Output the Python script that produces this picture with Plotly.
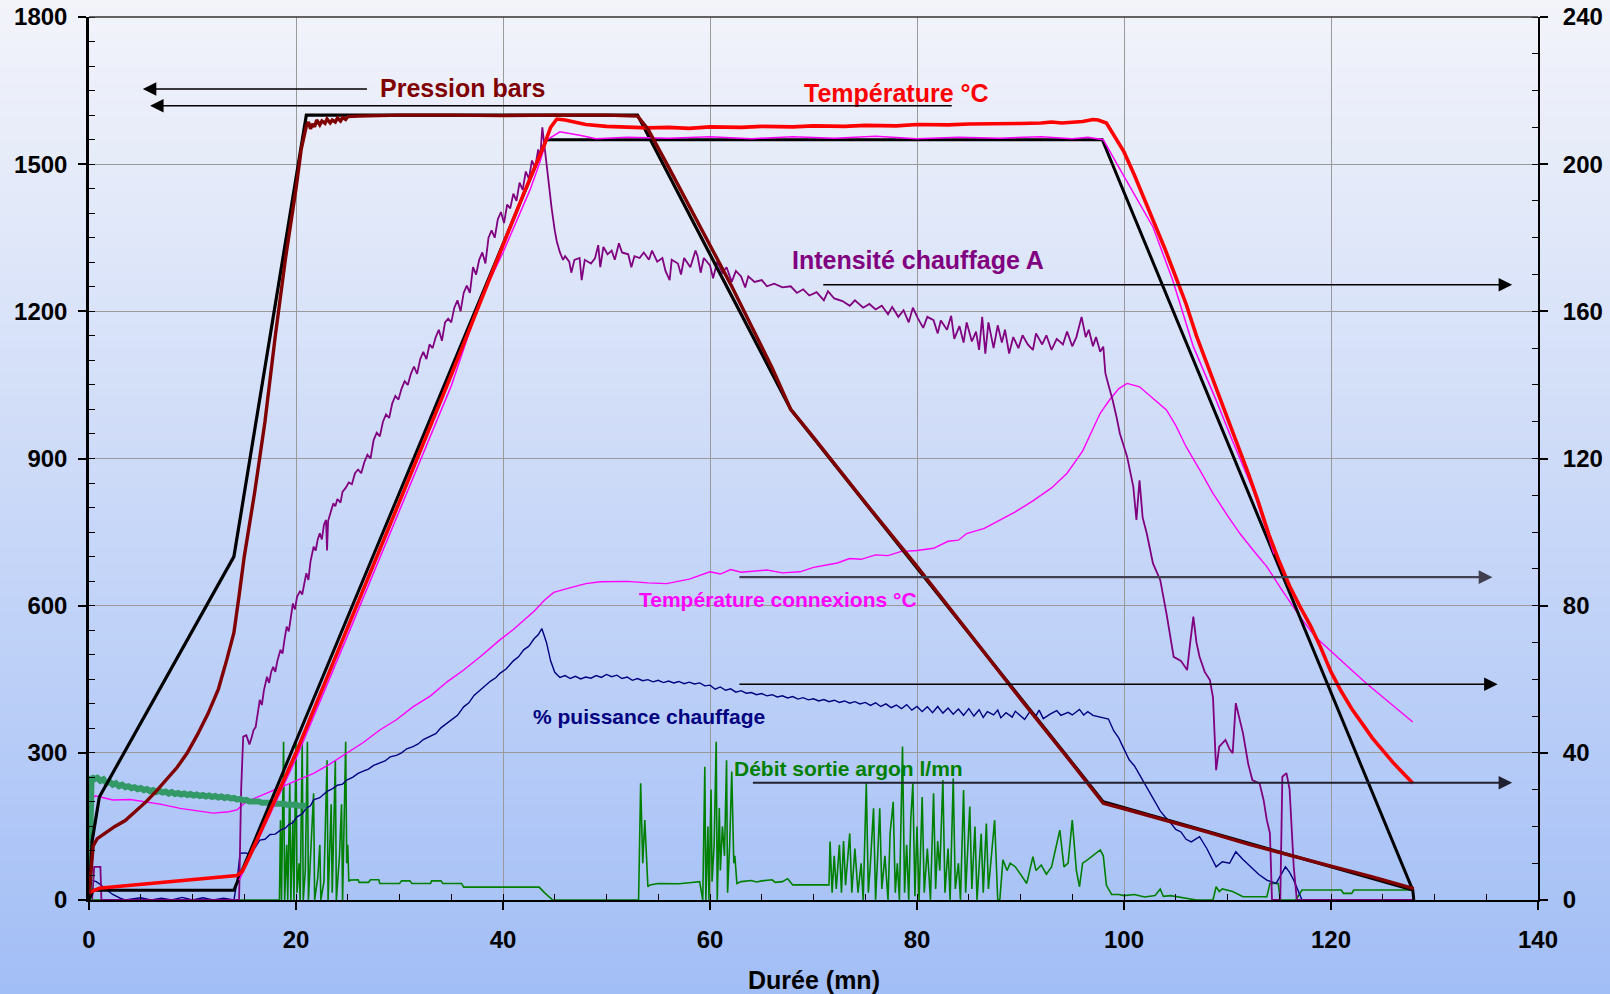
import plotly.graph_objects as go

# ---------------- DATA ----------------
# Left axis (0-1800): pressure (bars) and temperatures (°C)
press_set_x = [0, 0.3, 1.0, 14, 21, 53, 67.8, 98, 128]
press_set_y = [0, 120, 210, 700, 1600, 1600, 1000, 200, 20]

temp_set_x = [0, 0.4, 14, 44.2, 97.9, 127.9, 128]
temp_set_y = [0, 20, 20, 1550, 1550, 20, 0]

press_pts = [(0, 10), (0.2, 60), (0.4, 110), (0.8, 125), (1.5, 135), (2.5, 150), (3.5, 162), (4.5, 180),
             (5.5, 200), (6.5, 222), (7.5, 245), (8.5, 270), (9.5, 300), (10.5, 338), (11.5, 380), (12.5, 430),
             (13.3, 489), (14, 545), (14.5, 620), (15, 700), (16, 830), (17, 975), (18, 1150), (19, 1310),
             (20, 1450), (20.5, 1530), (21, 1578), (21.2, 1586), (21.4, 1572), (21.6, 1582), (21.8, 1576),
             (22, 1590), (22.3, 1580), (22.5, 1588), (22.8, 1583), (23, 1592), (23.3, 1584), (23.5, 1590),
             (23.8, 1586), (24, 1594), (24.3, 1588), (24.5, 1595), (24.8, 1591), (25, 1597), (26, 1598),
             (30, 1600), (35, 1600), (40, 1599), (45, 1600), (50, 1600), (53, 1598), (54, 1572), (56, 1494),
             (58, 1415), (60, 1335), (62, 1255), (64, 1170), (66, 1085), (67.8, 1000), (70, 943), (75, 810),
             (80, 680), (85, 545), (90, 410), (95, 278), (98, 197), (100, 186), (104, 163), (108, 139), (112, 114),
             (116, 91), (120, 69), (124, 47), (128, 23)]

temp_pts = [(0, 15), (0.5, 20), (1, 24), (3, 28), (5, 32), (7, 36), (9, 40), (11, 43), (13, 47), (14.3, 50),
            (14.8, 58), (15.5, 88), (20, 300), (25, 555), (30, 812), (35, 1070), (38, 1232), (40, 1335),
            (42, 1440), (43, 1490), (44, 1540), (44.6, 1575), (45.2, 1592), (46, 1590), (47, 1585), (48, 1581),
            (50, 1577), (52, 1575), (54, 1574), (56, 1575), (58, 1573), (60, 1576), (63, 1575), (65, 1577),
            (68, 1576), (70, 1578), (73, 1577), (75, 1579), (78, 1578), (80, 1581), (83, 1580), (85, 1582),
            (88, 1582), (90, 1583), (92, 1584), (93, 1586), (94, 1584), (95, 1585), (96, 1587), (97, 1591),
            (97.5, 1590), (98.3, 1584), (99, 1560), (100, 1525), (101, 1478), (102, 1428), (103, 1378),
            (104, 1325), (105, 1270), (106, 1215), (107, 1150), (108, 1095), (109, 1040), (110, 985), (111, 925),
            (112, 870), (113, 810), (114, 745), (115, 690), (116, 640), (117, 598), (118, 560), (119, 515),
            (120, 465), (121, 425), (122, 390), (123, 360), (124, 330), (125, 305), (126, 280), (127, 258),
            (127.9, 238)]

temp2_pts = [(14.5, 40), (20, 288), (25, 540), (30, 795), (35, 1048), (37.8, 1223), (40, 1320), (42.6, 1447),
             (43.5, 1500), (44.2, 1549), (45.5, 1566), (47.4, 1559), (49, 1552), (52, 1555), (56, 1553),
             (60, 1556), (64, 1552), (68, 1556), (72, 1553), (76, 1557), (80, 1552), (84, 1555), (88, 1553),
             (92, 1556), (95, 1552), (96.5, 1555), (98, 1550), (99.3, 1501), (100.9, 1441), (102.8, 1372),
             (104.7, 1264), (106.7, 1128), (108.9, 1019), (110.5, 935), (112.5, 835), (114.5, 705)]

inlet_pts = [(0, 0), (0.1, 205), (0.25, 252), (0.5, 246), (0.8, 249), (1.1, 243), (1.4, 246), (1.7, 238),
             (2.0, 241), (2.3, 235), (2.6, 238), (2.9, 232), (3.2, 235), (3.5, 230), (3.8, 232), (4.1, 228),
             (4.4, 230), (4.7, 226), (5.0, 228), (5.3, 224), (5.6, 226), (5.9, 222), (6.2, 224), (6.5, 220),
             (6.8, 223), (7.1, 219), (7.4, 221), (7.7, 217), (8.0, 220), (8.3, 216), (8.6, 218), (8.9, 215),
             (9.2, 217), (9.5, 214), (9.8, 216), (10.1, 213), (10.4, 215), (10.7, 212), (11.0, 214), (11.3, 211),
             (11.6, 213), (11.9, 210), (12.2, 212), (12.5, 209), (12.8, 211), (13.1, 208), (13.4, 210),
             (13.7, 207), (14.0, 208), (14.3, 205), (14.6, 206), (14.9, 203), (15.2, 204), (15.5, 201),
             (15.8, 202), (16.1, 200), (16.4, 201), (16.7, 198), (17.0, 199), (17.3, 197), (17.6, 198),
             (17.9, 196), (18.2, 197), (18.5, 195), (18.8, 196), (19.1, 194), (19.4, 195), (19.7, 193),
             (20.0, 194), (20.3, 192), (20.6, 193), (20.9, 191), (21.0, 192)]

# Right axis (0-240): connexion temperature °C, current A, % power, argon flow l/mn
conn_pts = [(0, 20), (0.3, 27.5), (0.6, 28.3), (1, 28.0), (2.3, 27.2), (4, 27.3), (5.6, 26.7), (7, 26.0),
            (8.8, 24.9), (10.5, 24.2), (12, 23.6), (13.5, 24.0), (14.3, 24.5), (15.2, 26.7), (16.8, 28.6),
            (18.5, 30.8), (20, 32.5), (21.7, 34.4), (23.3, 37.0), (24.9, 39.9), (26.5, 42.8), (28.1, 46.2),
            (29.7, 49.0), (31.3, 52.5), (33, 55.5), (34.6, 59.3), (36.2, 62.5), (37.8, 66.1), (39.7, 70.7),
            (41, 73.5), (42, 76.0), (43, 78.5), (44, 81.5), (44.9, 83.6), (46, 84.5), (48, 86.0), (49.4, 86.5),
            (52, 86.6), (54, 86.2), (55.8, 86.0), (58, 87.2), (60, 89.2), (61, 88.6), (62, 89.8), (63, 89.1),
            (64, 89.3), (65.5, 89.7), (67, 88.9), (68.7, 89.2), (70, 90.4), (71, 91.0), (72.3, 91.6),
            (73.5, 92.8), (74.6, 92.6), (76, 93.8), (77.2, 93.6), (78.4, 94.7), (80, 95.0), (81.6, 95.6),
            (83, 97.5), (84, 97.8), (84.8, 99.6), (86.5, 101.0), (88, 103.3), (89.5, 105.5), (91.2, 108.5),
            (93, 112.0), (94.5, 116.0), (96, 122.0), (97.7, 132.3), (98.6, 135.9), (99.5, 139.0),
            (100.3, 140.4), (101.5, 139.5), (102.5, 137.0), (104.1, 133.2), (105, 129.0), (106, 123.2),
            (107.3, 117.0), (108.6, 110.5), (110, 104.5), (111.2, 99.6), (112.5, 95.0), (113.8, 90.6),
            (115.2, 84.5), (117, 77.0), (118.5, 71.5), (120.2, 67.0), (121.8, 63.0), (123.4, 58.9), (125, 55.2),
            (126.6, 51.6), (127.9, 48.4)]

amp_pts = [(0, 0), (0.3, 0), (0.5, 9), (1.0, 9), (1.1, 9), (1.2, 0), (14.5, 0), (14.7, 30), (14.9, 44.4),
           (15.2, 44.8), (15.5, 42.3), (15.7, 44), (15.9, 46.2), (16.1, 47), (16.3, 51), (16.5, 54.4), (16.7, 53),
           (16.9, 57), (17.2, 60.7), (17.4, 59), (17.6, 62), (17.8, 63.4), (18.0, 62), (18.2, 65), (18.5, 68),
           (18.7, 67), (18.9, 71), (19.1, 74.3), (19.3, 73), (19.5, 77), (19.7, 80.6), (19.9, 79), (20.1, 82.4),
           (20.4, 84), (20.6, 83), (20.8, 86), (21, 88.8), (21.2, 87), (21.4, 92), (21.7, 96), (21.9, 95),
           (22.1, 98), (22.3, 99.7), (22.5, 98), (22.7, 102), (22.9, 103.3), (23.0, 95), (23.1, 103),
           (23.3, 105), (23.6, 107.8), (23.8, 107), (24.0, 109), (24.3, 108), (24.5, 111), (24.8, 112),
           (25.1, 113.5), (25.4, 113), (25.7, 116), (26.0, 117), (26.3, 116), (26.6, 119), (26.9, 121),
           (27.2, 120), (27.5, 125), (27.8, 127), (28.1, 126), (28.4, 130), (28.7, 132), (29.0, 131),
           (29.3, 135), (29.6, 137), (29.9, 136), (30.2, 139), (30.5, 141), (30.8, 140), (31.1, 143),
           (31.4, 145), (31.7, 143), (32.0, 147), (32.3, 149), (32.6, 147), (32.9, 151), (33.2, 150),
           (33.5, 153), (33.8, 155), (34.1, 152), (34.4, 157), (34.7, 158), (35.0, 157), (35.3, 161),
           (35.6, 163), (35.9, 160), (36.2, 165), (36.5, 167), (36.8, 165), (37.1, 172), (37.4, 170),
           (37.7, 174), (38.0, 176), (38.3, 173), (38.6, 180), (38.9, 182), (39.2, 180), (39.5, 185),
           (39.8, 187), (40.1, 184), (40.4, 189), (40.7, 188), (41.0, 192), (41.3, 190), (41.6, 195),
           (41.9, 193), (42.2, 198), (42.5, 196), (42.8, 201), (43.1, 199), (43.4, 204), (43.6, 202),
           (43.8, 210), (44.0, 205), (44.2, 199), (44.5, 192), (44.7, 188), (45, 182), (45.2, 179), (45.5, 176),
           (45.8, 174), (46, 175), (46.4, 173.5), (46.6, 170.5), (46.9, 174), (47.4, 174.5), (47.6, 168.5),
           (47.9, 174), (48.5, 173), (48.9, 174.5), (49.2, 178), (49.4, 172), (49.7, 177.5), (50.1, 175.5),
           (50.5, 176.5), (50.8, 174), (51.2, 178.5), (51.5, 176), (52.1, 175.5), (52.4, 172), (52.7, 175),
           (53.2, 174.5), (53.6, 176), (54.1, 174), (54.4, 176.5), (54.9, 173.5), (55.4, 174.5), (55.7, 171),
           (56.1, 168.5), (56.3, 174), (56.9, 173), (57.2, 170), (57.5, 174.5), (58.1, 172), (58.6, 176.5),
           (58.8, 175), (59.1, 170.5), (59.4, 174.5), (60, 172.5), (60.3, 169), (60.7, 173.5), (61.2, 170.5),
           (61.6, 172), (62.1, 168), (62.5, 171), (63, 169.5), (63.4, 166.5), (63.7, 169.5), (64.3, 168),
           (65, 168.5), (65.5, 166.8), (66.2, 167.5), (67, 166.5), (67.8, 166.8), (68.4, 165), (69, 166),
           (69.6, 164.3), (70.3, 165.2), (71, 163), (71.4, 165.5), (72, 163.5), (72.8, 162.8), (73.5, 161.5),
           (74, 163), (74.8, 161), (75.4, 162), (76, 160.5), (76.6, 161.5), (77.2, 159.2), (77.6, 161.2),
           (78.2, 158.5), (78.7, 160.3), (79.2, 157), (79.6, 161), (80.1, 158), (80.6, 155.5), (81, 158.5),
           (81.6, 157.6), (82, 154), (82.3, 157.5), (82.9, 155), (83.3, 158.8), (83.6, 152.5), (84.1, 156),
           (84.5, 151.5), (84.8, 157), (85.3, 151.8), (85.7, 154.5), (86, 149.5), (86.3, 158.5), (86.6, 148.5),
           (86.9, 157), (87.4, 150), (87.8, 156.2), (88.2, 151.5), (88.5, 155), (88.9, 148.5), (89.3, 153),
           (89.8, 150), (90.2, 153.5), (90.7, 151), (91.2, 149.5), (91.5, 154), (92.1, 151), (92.5, 153.5),
           (93, 149.5), (93.5, 152.5), (94.1, 151), (94.5, 154.5), (95, 150.5), (95.4, 153), (95.9, 158.5),
           (96.3, 153), (96.6, 155), (97, 150.5), (97.3, 153), (97.7, 149), (98, 150.4),
           (98.2, 143.2), (98.5, 140), (98.9, 135.9), (99.3, 131), (99.6, 126.8), (100.3, 120.5), (100.6, 116),
           (100.9, 112.3), (101.2, 103.3), (101.5, 114.1), (101.8, 104), (102.2, 99.6), (102.8, 91.5),
           (103.5, 87), (104.1, 77.9), (104.8, 66.1), (105.5, 65), (106.1, 62.5), (106.4, 70), (106.7, 77),
           (107.0, 70), (107.3, 66.1), (107.8, 62), (108.3, 59.8), (108.6, 55), (108.9, 35.3), (109.2, 41.7),
           (109.8, 43.5), (110.2, 41), (110.5, 39.9), (110.8, 53.5), (111.1, 50), (111.5, 45.3), (112, 37),
           (112.4, 32.6), (113.1, 31.7), (113.5, 27), (113.8, 21.7), (114.1, 18.1), (114.3, 0), (115.1, 0),
           (115.3, 33.5), (115.7, 34.5), (116, 30), (116.4, 9), (116.7, 0), (128, 0)]

power_pts = [(0, 4), (0.2, 5.4), (0.7, 5), (1.2, 4), (1.7, 2.7), (2.3, 1.5), (3, 0.5), (3.5, 0), (5, 0.6), (6, 0),
             (7, 0.5), (8, 0), (9, 0.7), (10, 0), (11, 0.6), (12, 0), (13, 0.5), (14, 0), (14.3, 5), (14.6, 12.7),
             (15.2, 12.8), (15.6, 12), (16, 14), (16.5, 16.3), (17, 16.5), (17.5, 17.8), (18, 17.9), (18.5, 19),
             (19, 19.6), (19.3, 20.5), (19.7, 21.0), (20.1, 22.6), (20.6, 23.4), (21, 25), (21.4, 25.6),
             (21.7, 27.2), (22.3, 27.8), (23, 29.5), (23.5, 30.2), (24, 31.2), (24.5, 31.5), (24.9, 32.6),
             (25.5, 33.4), (26, 34.4), (26.5, 35), (27, 35.6), (27.5, 36.6), (28.1, 37.2), (28.6, 37.8),
             (29.1, 38.9), (29.7, 39.3), (30.2, 40.0), (30.7, 41.1), (31.3, 41.7), (31.8, 42.4), (32.3, 43.6),
             (33, 44.5), (33.5, 45.2), (34, 46.8), (34.6, 48), (35.1, 49.1), (35.6, 50.2), (36.2, 52.5),
             (36.7, 53.6), (37.2, 55.6), (37.8, 57.1), (38.3, 58.2), (38.8, 59.5), (39.3, 60.4), (39.7, 61.6),
             (40.3, 62.8), (41, 65), (41.5, 66.1), (42, 68), (42.5, 69.0), (43, 71), (43.4, 72.1), (43.75, 73.8),
             (44.2, 70), (44.6, 65), (45, 61.9), (45.5, 60.5), (46, 61), (46.5, 60.2), (47, 60.8), (47.5, 60.1),
             (48, 60.6), (48.5, 60.3), (49, 61), (49.5, 60.5), (50, 61.3), (50.5, 60.7), (51, 61.1), (51.5, 60.2),
             (52, 60.6), (52.5, 59.7), (53, 60.2), (53.5, 59.6), (54, 59.9), (54.5, 59.3), (55, 59.7),
             (55.5, 59.1), (56, 59.5), (56.5, 59.0), (57, 59.4), (57.5, 58.8), (58, 59.2), (58.5, 58.7), (59, 59.0),
             (59.5, 58.2), (60, 58.4), (60.5, 57.3), (61, 57.9), (61.5, 57.0), (62, 57.4), (62.5, 56.5),
             (63, 56.9), (63.5, 56.2), (64, 56.4), (64.5, 55.8), (65, 56.1), (65.5, 55.5), (66, 55.8),
             (66.5, 55.2), (67, 55.5), (67.5, 54.9), (68, 55.3), (68.5, 54.6), (69, 55.0), (69.5, 54.4),
             (70, 54.7), (70.5, 54.1), (71, 54.5), (71.5, 53.9), (72, 54.3), (72.5, 53.7), (73, 54.1), (73.5, 53.5),
             (74, 53.9), (74.5, 53.3), (75, 53.7), (75.5, 52.9), (76, 53.6), (76.5, 52.6), (77, 53.3), (77.5, 52.3),
             (78, 53.0), (78.5, 52.0), (79, 53.1), (79.5, 51.6), (80, 52.6), (80.5, 51.2), (81, 52.5), (81.5, 50.9),
             (82, 52.6), (82.5, 50.8), (83, 52.2), (83.5, 50.5), (84, 51.9), (84.5, 50.2), (85, 52.0), (85.5, 50.0),
             (86, 51.7), (86.4, 49.6), (86.8, 51.2), (87.4, 50.3), (87.8, 51.6), (88.1, 49.5), (88.6, 50.9),
             (89.2, 49.7), (89.5, 51.3), (90.1, 50.0), (90.4, 49.1), (90.9, 51.2), (91.5, 50.1), (91.8, 51.6),
             (92.2, 49.3), (92.9, 50.6), (93.5, 51.5), (93.9, 50.2), (94.6, 51.0), (95.0, 50.3), (95.7, 51.8),
             (96.1, 50.3), (96.5, 51.2), (97, 50.2), (97.7, 49.8), (98.5, 49.2), (99, 46), (99.5, 44), (100, 41),
             (100.5, 38.1), (101, 36.5), (101.5, 34), (102, 31.5), (102.5, 29), (103, 26.8), (103.5, 24.2),
             (104, 22.5), (104.5, 21), (105, 19.2), (105.5, 18.5), (106, 16.5), (106.5, 15.8), (107.3, 17.2),
             (108, 14), (108.9, 9), (109.5, 10.4), (110.2, 10), (110.8, 13.1), (111.5, 11), (112.2, 9), (113, 7),
             (113.8, 5.4), (114.7, 4.5), (115.6, 9), (116, 7.5), (116.4, 5.4), (117.2, 0), (128, 0)]

argon_pts = [(0, 0), (18.4, 0), (18.5, 21.7), (18.6, 0), (18.8, 43), (18.9, 0), (19.1, 15), (19.2, 0),
             (19.4, 31.7), (19.5, 0), (19.7, 21.7), (19.8, 0), (20.0, 43), (20.1, 2), (20.3, 10), (20.4, 0),
             (20.6, 43), (20.7, 0), (20.9, 8), (21.1, 43), (21.2, 0), (21.4, 12), (21.7, 29), (21.8, 0), (22.1, 6),
             (22.3, 15), (22.4, 0), (22.7, 5), (23.0, 38), (23.1, 0), (23.4, 26), (23.5, 2), (23.8, 38), (23.9, 0),
             (24.2, 12), (24.4, 26), (24.5, 0), (24.8, 43), (24.9, 10), (25.0, 15), (25.1, 5), (25.2, 5.4),
             (26, 5.5), (26.1, 4.8), (27, 4.8), (27.2, 5.5), (28, 5.5), (28.1, 4.5), (30, 4.5), (30.2, 5.2),
             (31, 5.2), (31.2, 4.5), (33, 4.5), (33.1, 5.2), (34, 5.2), (34.2, 4.5), (36, 4.5), (36.2, 3.5),
             (43.5, 3.5), (44, 2), (44.8, 0), (53.1, 0), (53.3, 31.7), (53.5, 10), (53.7, 21.7), (54, 3.6),
             (54.2, 4.1), (55, 4.5), (57, 4.4), (58, 4.7), (59, 5), (59.3, 0), (59.5, 36.2), (59.6, 0), (59.8, 20),
             (59.9, 0), (60.1, 30), (60.2, 5), (60.4, 15), (60.6, 43), (60.7, 0), (60.9, 25), (61.0, 8),
             (61.2, 20), (61.4, 12), (61.6, 38), (61.7, 2), (61.9, 15), (62.1, 34.9), (62.3, 10), (62.4, 12),
             (62.6, 4.5), (63, 5), (64, 5.3), (64.5, 4.9), (65, 5.2), (66, 5.5), (66.3, 4.8), (67, 5), (67.5, 5.8),
             (68, 4.1), (71.5, 4.1), (71.6, 15.9), (71.8, 2), (72.0, 12), (72.2, 3), (72.5, 15), (72.7, 2),
             (72.9, 16), (73.1, 4), (73.5, 18.1), (73.7, 2), (74, 14), (74.3, 2), (74.6, 10), (74.8, 0),
             (75.1, 31.7), (75.3, 2), (75.5, 10), (75.8, 24.9), (76.0, 0), (76.2, 12), (76.4, 24.9), (76.6, 3),
             (76.9, 12), (77.2, 0), (77.4, 18), (77.7, 26.7), (77.9, 2), (78.1, 10), (78.3, 0), (78.6, 41.7),
             (78.8, 2), (79.0, 15), (79.2, 0), (79.4, 22), (79.6, 31.7), (79.8, 1), (80.0, 20), (80.2, 0),
             (80.5, 28), (80.7, 2), (81.0, 14), (81.3, 0), (81.6, 29), (81.8, 3), (82.0, 16), (82.2, 8),
             (82.5, 32.6), (82.7, 2), (83.0, 14), (83.2, 0), (83.5, 33), (83.7, 3), (84.0, 10), (84.2, 0),
             (84.5, 29.9), (84.7, 2), (85.1, 25.4), (85.3, 3), (85.6, 20), (85.8, 0), (86.2, 18), (86.4, 2),
             (86.7, 20.8), (86.9, 3), (87.2, 12), (87.5, 21.7), (87.8, 0), (88.0, 0), (88.3, 10.9), (88.7, 8),
             (89.0, 10), (89.5, 9), (90, 7), (90.6, 4.5), (91.2, 11.8), (91.5, 8), (92, 9.5), (92.5, 7), (93, 9),
             (93.8, 19), (94.2, 9), (94.6, 10), (95, 21.7), (95.4, 8), (95.7, 3.6), (96, 10), (96.5, 11), (97, 12),
             (97.7, 13.6), (98, 12), (98.3, 4), (98.8, 1.5), (99.5, 1.5), (100, 1.2), (101, 1.5), (102, 0.8),
             (103, 1.2), (103.5, 3), (103.8, 1), (104.5, 1.2), (106, 0.5), (107, 0), (108.6, 0), (108.9, 3.6),
             (109.2, 2.3), (109.5, 3), (110.5, 2.3), (111.5, 0.9), (113.8, 0.9), (114.1, 4.5), (114.9, 4.5),
             (115.1, 0), (116.6, 0), (117.2, 2.7), (121, 2.7), (121.2, 1.8), (122, 1.8), (122.2, 2.7),
             (124.5, 2.7), (124.7, 2.7), (125.4, 2.7), (127.9, 2.7), (128, 0)]

# tick values
x_ticks = [0, 20, 40, 60, 80, 100, 120, 140]
left_ticks = [0, 300, 600, 900, 1200, 1500, 1800]
right_ticks = [0, 40, 80, 120, 160, 200, 240]

# ---------------- FIGURE ----------------
FONT = "Liberation Sans, Arial, sans-serif"
fig = go.Figure()


def line(x, y, color, width, axis):
    fig.add_trace(go.Scatter(x=x, y=y, mode="lines", yaxis=axis, hoverinfo="skip",
                             line=dict(color=color, width=width)))


def line_pts(pts, color, width, axis):
    line([p[0] for p in pts], [p[1] for p in pts], color, width, axis)


# right-axis series (base subplot, drawn first)
line_pts(argon_pts, "#008000", 1.6, "y")
line_pts(power_pts, "#000080", 1.4, "y")
line_pts(conn_pts, "#ff00ff", 1.4, "y")
line_pts(amp_pts, "#800080", 1.8, "y")
# left-axis series (overlay subplot, drawn on top)
line_pts(inlet_pts, "#339966", 6, "y2")
line(temp_set_x, temp_set_y, "#000000", 3, "y2")
line(press_set_x, press_set_y, "#000000", 3.2, "y2")
line_pts(temp2_pts, "#ff00ff", 1.5, "y2")
line_pts(temp_pts, "#ff0000", 3.6, "y2")
line_pts(press_pts, "#800000", 3.4, "y2")

tickfont = dict(family=FONT, size=24, color="black", weight="bold")

# background gradient (decoration)
shapes = []
N = 120
H = 994.0
top = (243, 244, 250)
bot = (162, 190, 246)
for i in range(N):
    t = (i + 0.5) / N
    c = tuple(round(top[k] + (bot[k] - top[k]) * t) for k in range(3))
    py0 = i * H / N
    py1 = (i + 1) * H / N + 1
    shapes.append(dict(type="rect", xref="paper", yref="paper", layer="below",
                       x0=-0.08, x1=1.08, y0=(900 - py1) / 883, y1=(900 - py0) / 883,
                       fillcolor="rgb(%d,%d,%d)" % c, line=dict(width=0)))
shapes.append(dict(type="line", xref="paper", yref="paper", x0=0, x1=1, y0=1, y1=1,
                   line=dict(color="#333333", width=1.5), layer="above"))

annotations = []


def label(text, x, y, color, size):
    annotations.append(dict(text="<b>%s</b>" % text, x=x, y=y, xref="x", yref="y2", showarrow=False,
                            font=dict(family=FONT, size=size, color=color), xanchor="center", yanchor="middle"))


def arrow(x_tail, x_head, y, color, width, size):
    annotations.append(dict(text="", x=x_head, y=y, ax=x_tail, ay=y, xref="x", yref="y2", axref="x",
                            ayref="y2", showarrow=True, arrowhead=2, arrowsize=size, arrowwidth=width,
                            arrowcolor=color, standoff=0, startstandoff=0))


label("Pression bars", 36.1, 1655, "#800000", 25)
label("Température °C", 78.0, 1646, "#ff0000", 25)
label("Intensité chauffage A", 80.1, 1305, "#800080", 25)
label("Température connexions °C", 66.6, 612, "#ff00ff", 21)
label("% puissance chauffage", 54.1, 375, "#000080", 21)
label("Débit sortie argon l/mn", 73.4, 268, "#008000", 21)

arrow(27.0, 5.2, 1653, "#000000", 1.5, 1.8)
arrow(83.5, 5.9, 1619, "#000000", 1.5, 1.8)
arrow(70.8, 137.5, 1254, "#000000", 1.5, 1.8)
arrow(62.7, 135.6, 658, "#404050", 2.2, 1.25)
arrow(62.7, 136.1, 440, "#000000", 1.5, 1.8)
arrow(64.0, 137.5, 239, "#202030", 1.8, 1.5)

annotations.append(dict(text="<b>Durée (mn)</b>", x=0.5, y=(900 - 980) / 883, xref="paper", yref="paper",
                        showarrow=False, font=dict(family=FONT, size=25, color="black"),
                        xanchor="center", yanchor="middle"))

minor_common = dict(ticks="inside", ticklen=6, tickcolor="black", tickwidth=1, showgrid=False)

fig.update_layout(
    width=1610, height=994,
    margin=dict(l=89, r=72, t=17, b=94, autoexpand=False),
    paper_bgcolor="rgb(243,244,250)", plot_bgcolor="rgba(0,0,0,0)",
    showlegend=False,
    shapes=shapes, annotations=annotations,
    xaxis=dict(range=[0, 140], tickvals=x_ticks, ticks="outside", ticklen=8, tickwidth=1.5,
               tickcolor="black", showline=True, linecolor="black", linewidth=2, showgrid=True,
               gridcolor="#9a9a9a", gridwidth=1, zeroline=False, tickfont=tickfont, ticklabelstandoff=9,
               automargin=False, minor=dict(dtick=5, tick0=0, **minor_common)),
    yaxis=dict(range=[0, 240], side="right", tickvals=right_ticks, ticks="outside", ticklen=8, tickwidth=1.5,
               tickcolor="black", showline=True, linecolor="black", linewidth=2, showgrid=True,
               gridcolor="#9a9a9a", gridwidth=1, zeroline=False, tickfont=tickfont, ticklabelstandoff=10,
               automargin=False, minor=dict(dtick=10, tick0=0, **minor_common)),
    yaxis2=dict(range=[0, 1800], side="left", overlaying="y", tickvals=left_ticks, ticks="outside",
                ticklen=8, tickwidth=1.5, tickcolor="black", showline=True, linecolor="black", linewidth=2.5,
                showgrid=False, zeroline=False, tickfont=tickfont, ticklabelstandoff=6, automargin=False,
                minor=dict(dtick=50, tick0=0, **minor_common)),
)

fig.write_html("out.html")
